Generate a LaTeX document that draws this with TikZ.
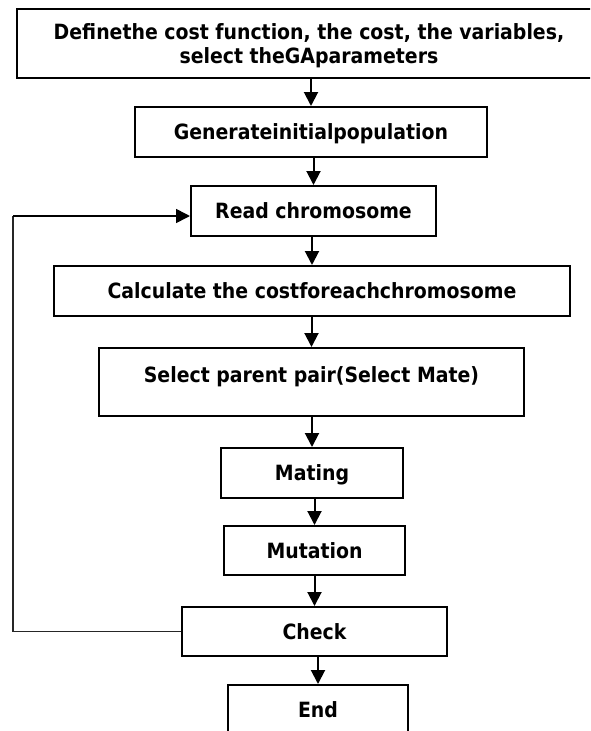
\documentclass[tikz,border=0pt]{standalone}
\usepackage{fontspec}
\setmainfont{DejaVu Sans Condensed}
\usetikzlibrary{arrows.meta}
\begin{document}
\begin{tikzpicture}[x=1pt,y=-1pt,
  box/.style={draw=black, line width=2pt, rectangle, inner sep=0pt, align=center,
    font=\fontsize{21}{24}\selectfont\bfseries, text height=15pt, text depth=0pt},
  arr/.style={line width=2pt, -{Triangle[length=14pt,width=14pt]}},
  loopline/.style={line width=1.6pt, draw=black!85}]
\useasboundingbox (0,0) rectangle (590,731);
\clip (0,0) rectangle (590,731);
\fill[white] (0,0) rectangle (590,731);
\node[box, minimum width=584pt, minimum height=69pt, text height=39pt] (def) at (309,43.5)
  {Definethe cost function, the cost, the variables,\\select theGAparameters};
\node[box, minimum width=352pt, minimum height=50pt] (gen) at (311,132) {Generateinitialpopulation};
\node[box, minimum width=245pt, minimum height=50pt] (read) at (313.5,211) {Read chromosome};
\node[box, minimum width=516pt, minimum height=50pt] (calc) at (312,291) {Calculate the costforeachchromosome};
\node[box, minimum width=425pt, minimum height=68pt, text height=7.5pt, text depth=7.5pt] (sel) at (311.5,382) {Select parent pair(Select Mate)};
\node[box, minimum width=182pt, minimum height=50pt] (mat) at (312,473) {Mating};
\node[box, minimum width=181pt, minimum height=49pt] (mut) at (314.5,550.5) {Mutation};
\node[box, minimum width=265pt, minimum height=49pt] (chk) at (314.5,631.5) {Check};
\node[box, minimum width=180pt, minimum height=50pt] (end) at (318,710) {End};
\draw[arr] (def.south -| gen.north) -- (gen.north);
\draw[arr] (gen.south -| read.north) -- (read.north);
\draw[arr] (read.south -| calc.north) -- (calc.north);
\draw[arr] (calc.south -| sel.north) -- (sel.north);
\draw[arr] (sel.south -| mat.north) -- (mat.north);
\draw[arr] (mat.south -| mut.north) -- (mut.north);
\draw[arr] (mut.south -| chk.north) -- (chk.north);
\draw[arr] (chk.south -| end.north) -- (end.north);
\coordinate (lb) at (13,631.5);
\coordinate (lt) at (13,216);
\draw[loopline] (chk.west) -- (lb) -- (lt);
\draw[arr, line width=1.6pt] (lt) -- (lt -| read.west);
\end{tikzpicture}
\end{document}
